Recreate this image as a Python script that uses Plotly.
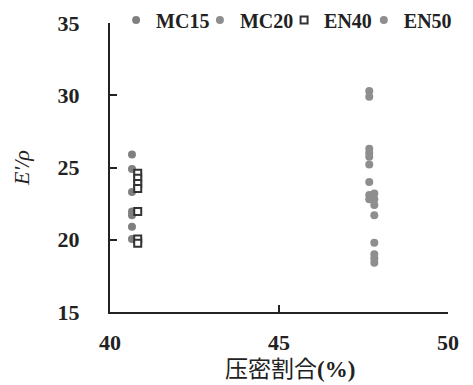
import plotly.graph_objects as go

# Specific modulus E'/rho versus compression ratio (%)
mc15_x = [40.65] * 7
mc15_y = [25.9, 24.9, 23.3, 21.95, 21.7, 20.9, 20.05]

en40_x = [40.82] * 7
en40_y = [24.6, 24.25, 23.9, 23.55, 21.95, 20.05, 19.75]

mc20_x = [47.67] * 9
mc20_y = [30.3, 29.9, 26.3, 26.0, 25.75, 25.2, 24.0, 23.1, 22.8]

en50_x = [47.82] * 8
en50_y = [23.2, 22.8, 22.4, 21.7, 19.8, 19.0, 18.7, 18.4]

x_ticks = [40, 45, 50]
y_ticks = [15, 20, 25, 30, 35]

serif = "Liberation Serif"
ink = "#222222"
label_font = dict(family=serif, size=22, color=ink, weight="bold")

fig = go.Figure()
fig.add_trace(go.Scatter(x=mc15_x, y=mc15_y, mode="markers", name="MC15", legend="legend",
                         marker=dict(symbol="circle", size=8, color="#808080")))
fig.add_trace(go.Scatter(x=mc20_x, y=mc20_y, mode="markers", name="MC20", legend="legend2",
                         marker=dict(symbol="circle", size=8, color="#8e8e8e")))
fig.add_trace(go.Scatter(x=en40_x, y=en40_y, mode="markers", name="EN40", legend="legend3",
                         marker=dict(symbol="square", size=7, color="white",
                                     line=dict(color="#333333", width=2))))
fig.add_trace(go.Scatter(x=en50_x, y=en50_y, mode="markers", name="EN50", legend="legend4",
                         marker=dict(symbol="circle", size=8, color="#8e8e8e")))


def legend_box(x):
    # one single-entry legend per series, laid out along the top edge
    return dict(orientation="h", x=x, y=1.01, xanchor="left", yanchor="middle",
                font=dict(family=serif, size=20, color=ink, weight="bold"),
                itemwidth=30, bgcolor="rgba(0,0,0,0)")


fig.update_layout(
    width=473, height=385,
    margin=dict(l=110, r=25, t=23, b=73, autoexpand=False),
    paper_bgcolor="white", plot_bgcolor="white",
    font=dict(family=serif, size=22, color=ink),
    showlegend=True,
    legend=legend_box(0.018),
    legend2=legend_box(0.266),
    legend3=legend_box(0.515),
    legend4=legend_box(0.751),
    xaxis=dict(range=[40, 50], tickvals=x_ticks, ticks="inside", ticklen=7,
               tickwidth=2, tickcolor=ink, showline=True, linecolor=ink,
               linewidth=2, showgrid=False, zeroline=False, ticklabelstandoff=10,
               tickfont=label_font),
    yaxis=dict(range=[15, 35], tickvals=y_ticks, ticks="inside", ticklen=7,
               tickwidth=2, tickcolor=ink, showline=True, linecolor=ink,
               linewidth=2, showgrid=False, zeroline=False, ticklabelstandoff=24,
               tickfont=label_font,
               title=dict(text="<i>E'/ρ</i>", standoff=22,
                          font=dict(family=serif, size=22, color=ink))),
    annotations=[dict(text="压密割合<b>(%)</b>", xref="paper", yref="paper",
                      x=0.533, y=-0.2, xanchor="center", yanchor="middle",
                      showarrow=False,
                      font=dict(family="Liberation Serif, Noto Sans CJK JP",
                                size=23, color=ink))],
)

fig.write_html("out.html")
